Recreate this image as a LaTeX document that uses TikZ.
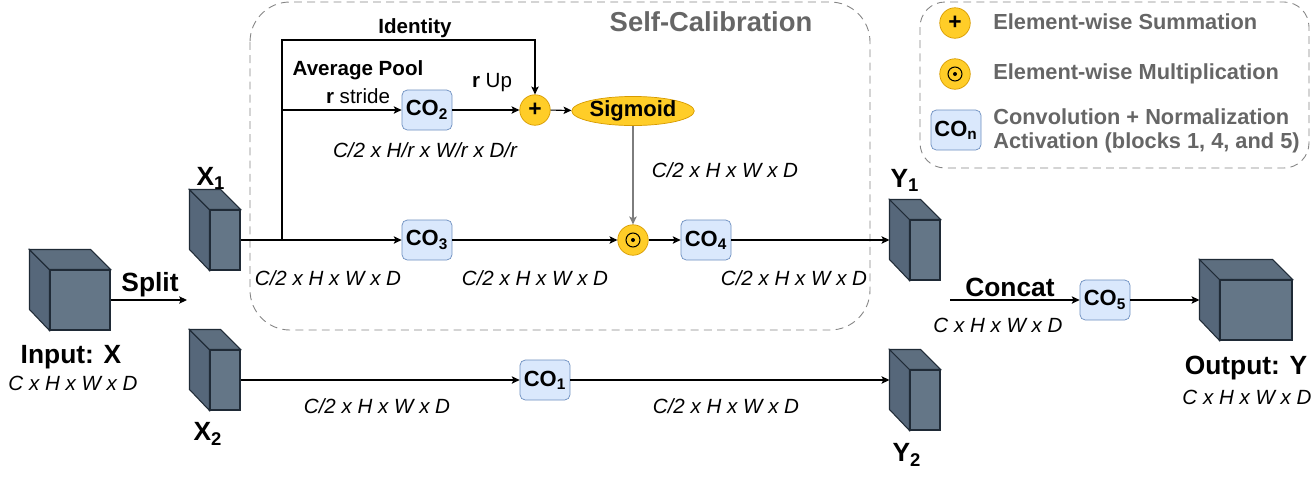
\documentclass[tikz,border=0pt]{standalone}
\usepackage{fontspec}
\setmainfont{Liberation Sans}
\setsansfont{Liberation Sans}
\usetikzlibrary{arrows.meta,positioning,shapes.geometric}
\definecolor{cubefront}{HTML}{647687}
\definecolor{cubeside}{HTML}{56677A}
\definecolor{cubetop}{HTML}{5D6E7F}
\definecolor{cubeline}{HTML}{1F2A36}
\definecolor{convblue}{HTML}{DAE8FC}
\definecolor{convline}{HTML}{6C8EBF}
\definecolor{opyellow}{HTML}{FFCD28}
\definecolor{opline}{HTML}{D79B00}
\definecolor{labelgray}{HTML}{666666}

\begin{document}
\begin{tikzpicture}[x=0.02cm,y=-0.02cm,font=\sffamily,conv/.style={rounded corners=3pt,draw=convline,fill=convblue,minimum width=1cm,minimum height=.8cm,inner sep=0pt,font=\fontsize{12.5}{15}\selectfont\bfseries},oper/.style={circle,draw=opline,fill=opyellow,minimum size=.61cm,inner sep=0pt,font=\fontsize{13}{15}\selectfont\bfseries},cube/.style={draw=cubeline,fill=cubefront,line width=.6pt,minimum height=1.2cm,inner sep=0pt},flow/.style={-{Stealth[length=4.5pt,width=4.2pt,inset=1pt]},line width=.6pt},bigtag/.style={font=\fontsize{15}{18}\selectfont\bfseries,inner sep=0pt},smalltag/.style={font=\fontsize{11.7}{14}\selectfont,inner sep=0pt},dims/.style={font=\fontsize{11.7}{14}\selectfont\itshape,inner sep=0pt},legtext/.style={font=\fontsize{12.4}{15}\selectfont\bfseries,text=labelgray,anchor=west,inner sep=0pt},dashbox/.style={draw=labelgray!80,line width=.5pt,dash pattern=on 4.5pt off 3pt}]
  \useasboundingbox (0,0) rectangle (1316,481);
  \draw[dashbox,rounded corners=.8cm] (250,2) rectangle (870,330);
  \draw[dashbox,rounded corners=.5cm] (920,2) rectangle (1309,168);
  \node[bigtag,text=labelgray,font=\fontsize{15.6}{18}\selectfont\bfseries] at (711,22) {Self-Calibration};
  \node[cube,minimum width=1.2cm] (inx) at (80,300) {};
  \node[cube,minimum width=.6cm] (x1) at (225,240) {};
  \node[cube,minimum width=.6cm] (x2) at (225,380) {};
  \node[cube,minimum width=.6cm] (y1) at (925,250) {};
  \node[cube,minimum width=.6cm] (y2) at (925,400) {};
  \node[cube,minimum width=1.44cm] (outy) at (1256,310) {};
  \foreach \c in {inx,x1,x2,y1,y2,outy}{
    \filldraw[draw=cubeline,fill=cubeside,line width=.6pt] (\c.north west) -- ++(-20,-20) -- ++(0,60) -- (\c.south west) -- cycle;
    \filldraw[draw=cubeline,fill=cubetop,line width=.6pt] (\c.north west) -- ++(-20,-20) -- ([shift={(-20,-20)}]\c.north east) -- (\c.north east) -- cycle;
  }
  \node[bigtag] at (71,357) {Input: X};
  \node[dims] at (73,383) {C x H x W x D};
  \node[bigtag] at (150,285) {Split};
  \coordinate (splitend) at (187,300);
  \draw[flow] (inx) -- (splitend);
  \node[bigtag] at (211,178) {X\textsubscript{1}};
  \node[bigtag] at (208,434) {X\textsubscript{2}};
  \node[bigtag] at (905,180) {Y\textsubscript{1}};
  \node[bigtag] at (907,455) {Y\textsubscript{2}};
  \node[conv] (co2) at (427,110) {CO\textsubscript{2}};
  \node[conv] (co3) at (427,240) {CO\textsubscript{3}};
  \node[conv] (co4) at (706,240) {CO\textsubscript{4}};
  \node[conv] (co1) at (545,380) {CO\textsubscript{1}};
  \node[conv] (co5) at (1105,300) {CO\textsubscript{5}};
  \node[oper] (plus) at (535,110) {+};
  \node[oper] (mul) at (633,240) {};
  \draw[line width=.6pt] (mul.center) circle[radius=.14cm];
  \fill (mul.center) circle[radius=.04cm];
  \node[ellipse,draw=opline,fill=opyellow,minimum width=2.32cm,minimum height=.56cm,inner sep=0pt,font=\fontsize{12.5}{15}\selectfont\bfseries] (sig) at (633,111) {Sigmoid};
  \coordinate (branch) at (282,240);
  \coordinate (pool) at (282,110);
  \coordinate (idcorner) at (282,40);
  \draw[line width=.6pt] (x1.east) -- (branch);
  \draw[flow] (branch) -- (idcorner) -| (plus.north);
  \draw[flow] (pool) -- (co2);
  \draw[flow] (branch) -- (co3);
  \draw[flow] (co2) -- (plus);
  \draw[flow] (plus) -- (sig);
  \draw[flow,draw=labelgray!85,line width=.9pt] (sig) -- (mul);
  \draw[flow] (co3) -- (mul);
  \draw[flow] (mul) -- (co4);
  \draw[flow] (co4) -- ([shift={(-20,-10)}]y1.west);
  \draw[flow] (x2) -- (co1);
  \draw[flow] (co1) -- ([shift={(-20,-20)}]y2.west);
  \coordinate (catin) at (950,300);
  \draw[flow] (catin) -- (co5);
  \draw[flow] (co5) -- ([shift={(-20,-10)}]outy.west);
  \node[bigtag,font=\fontsize{11.7}{14}\selectfont\bfseries] at (415,28) {Identity};
  \node[bigtag,font=\fontsize{11.7}{14}\selectfont\bfseries] at (358,70) {Average Pool};
  \node[smalltag] at (358,96) {\textbf{r} stride};
  \node[smalltag] at (492,83) {\textbf{r} Up};
  \node[dims] at (425,150) {C/2 x H/r x W/r x D/r};
  \node[dims] at (725,170) {C/2 x H x W x D};
  \node[dims] at (328,278) {C/2 x H x W x D};
  \node[dims] at (535,278) {C/2 x H x W x D};
  \node[dims] at (794,278) {C/2 x H x W x D};
  \node[dims] at (377,406) {C/2 x H x W x D};
  \node[dims] at (726,406) {C/2 x H x W x D};
  \node[bigtag] at (1010,287) {Concat};
  \node[dims] at (998,325) {C x H x W x D};
  \node[bigtag] at (1246,368) {Output: Y};
  \node[dims] at (1247,397) {C x H x W x D};
  \node[oper] (legplus) at (955,23) {+};
  \node[oper] (legmul) at (955,74) {};
  \draw[line width=.6pt] (legmul.center) circle[radius=.14cm];
  \fill (legmul.center) circle[radius=.04cm];
  \node[conv] (legconv) at (956,130) {CO\textsubscript{n}};
  \node[legtext] at (993,22) {Element-wise Summation};
  \node[legtext] at (993,74) {Element-wise Multiplication};
  \node[legtext] at (993,117) {Convolution + Normalization};
  \node[legtext] at (993,143) {Activation (blocks 1, 4, and 5)};
\end{tikzpicture}
\end{document}
